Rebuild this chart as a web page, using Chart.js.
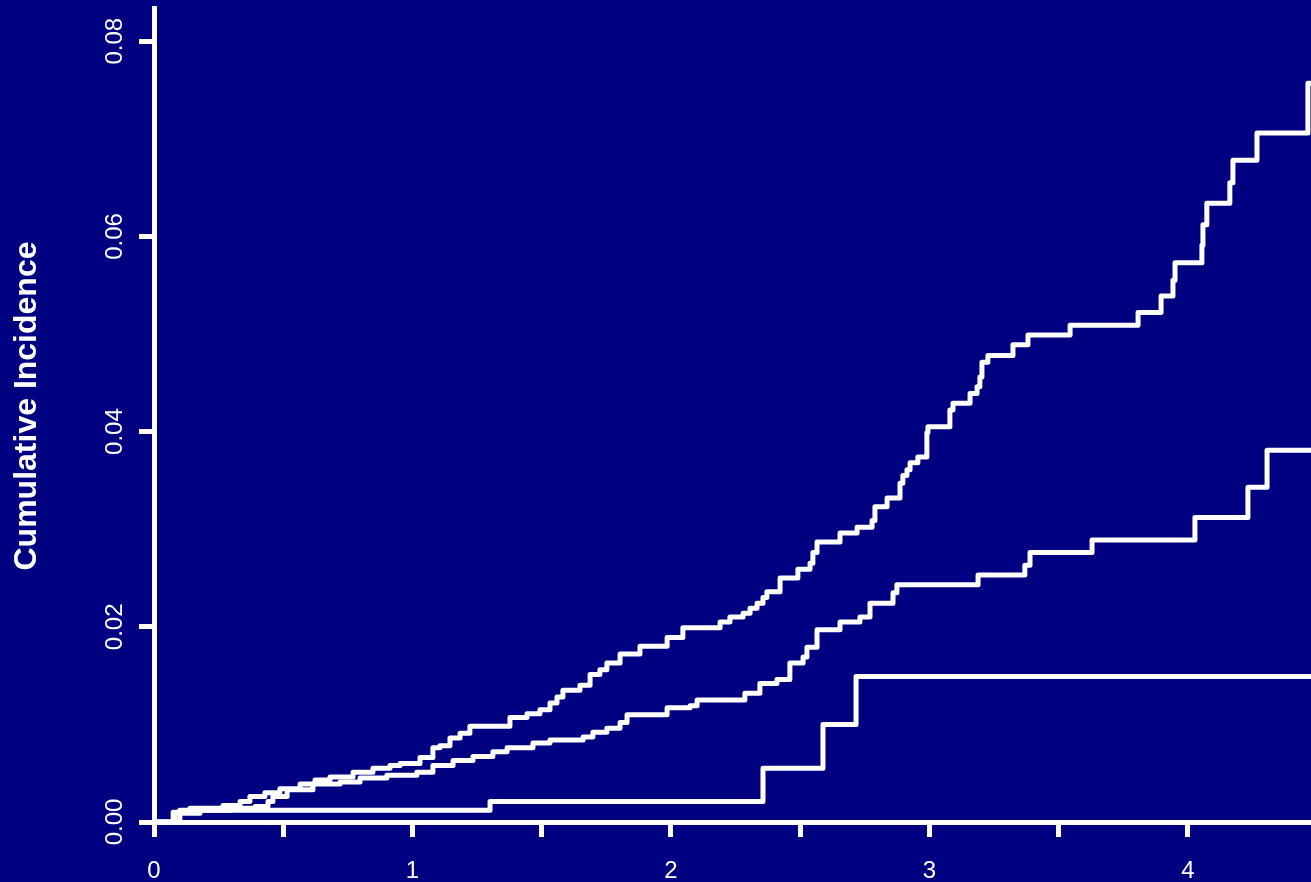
<!DOCTYPE html>
<html>
<head>
<meta charset="utf-8">
<title>Cumulative Incidence</title>
<script src="https://cdn.jsdelivr.net/npm/chart.js@4.4.1/dist/chart.umd.min.js"></script>
<style>
  html, body { margin: 0; padding: 0; background: #000080; overflow: hidden; }
  canvas { display: block; }
</style>
</head>
<body>
<canvas id="cumIncChart" width="1311" height="882"></canvas>
<script>
// step times and the cumulative incidence reached at each step
const upperTimes = [0.074, 0.139, 0.267, 0.333, 0.371, 0.429, 0.487, 0.565, 0.623, 0.681, 0.770, 0.847, 0.913, 0.952, 1.029, 1.079, 1.106, 1.145, 1.184, 1.222, 1.377, 1.443, 1.493, 1.532, 1.559, 1.582, 1.648, 1.687, 1.725, 1.752, 1.803, 1.880, 1.985, 2.046, 2.190, 2.228, 2.279, 2.306, 2.333, 2.356, 2.371, 2.422, 2.491, 2.538, 2.549, 2.565, 2.654, 2.720, 2.778, 2.789, 2.836, 2.886, 2.897, 2.913, 2.925, 2.955, 2.990, 2.994, 3.079, 3.091, 3.157, 3.184, 3.195, 3.203, 3.226, 3.323, 3.381, 3.544, 3.807, 3.896, 3.942, 3.950, 4.054, 4.058, 4.073, 4.162, 4.174, 4.267, 4.464];
const upperValues = [0.0010, 0.0014, 0.0017, 0.0021, 0.0026, 0.0030, 0.0034, 0.0039, 0.0043, 0.0046, 0.0051, 0.0055, 0.0058, 0.0060, 0.0066, 0.0076, 0.0078, 0.0086, 0.0091, 0.0098, 0.0107, 0.0111, 0.0115, 0.0122, 0.0128, 0.0135, 0.0140, 0.0151, 0.0156, 0.0163, 0.0172, 0.0180, 0.0189, 0.0199, 0.0205, 0.0210, 0.0214, 0.0219, 0.0224, 0.0230, 0.0236, 0.0250, 0.0259, 0.0265, 0.0276, 0.0287, 0.0296, 0.0302, 0.0309, 0.0323, 0.0332, 0.0347, 0.0355, 0.0361, 0.0368, 0.0374, 0.0399, 0.0405, 0.0422, 0.0429, 0.0439, 0.0446, 0.0456, 0.0471, 0.0478, 0.0489, 0.0499, 0.0509, 0.0522, 0.0539, 0.0555, 0.0573, 0.0591, 0.0612, 0.0634, 0.0655, 0.0678, 0.0706, 0.0757];

const middleTimes = [0.081, 0.178, 0.294, 0.391, 0.441, 0.460, 0.515, 0.615, 0.720, 0.797, 0.901, 1.017, 1.079, 1.157, 1.234, 1.311, 1.366, 1.466, 1.532, 1.660, 1.698, 1.752, 1.803, 1.830, 1.985, 2.074, 2.101, 2.286, 2.344, 2.410, 2.460, 2.511, 2.526, 2.565, 2.654, 2.731, 2.770, 2.859, 2.874, 3.188, 3.369, 3.389, 3.629, 4.027, 4.232, 4.306];
const middleValues = [0.0009, 0.0012, 0.0014, 0.0016, 0.0021, 0.0026, 0.0033, 0.0039, 0.0041, 0.0045, 0.0048, 0.0051, 0.0058, 0.0063, 0.0067, 0.0072, 0.0076, 0.0081, 0.0084, 0.0087, 0.0092, 0.0096, 0.0102, 0.0110, 0.0117, 0.0119, 0.0125, 0.0132, 0.0142, 0.0146, 0.0163, 0.0169, 0.0179, 0.0197, 0.0205, 0.0210, 0.0224, 0.0235, 0.0243, 0.0253, 0.0263, 0.0276, 0.0289, 0.0312, 0.0343, 0.0381];

const lowerTimes = [0.10, 1.30, 2.356, 2.588, 2.716];
const lowerValues = [0.0012, 0.0021, 0.0055, 0.0100, 0.0149];

const xTickLabels = ["0", "1", "2", "3", "4"];
const yTickLabels = ["0.00", "0.02", "0.04", "0.06", "0.08"];
const yTitle = "Cumulative Incidence";

const xMax = 4.476;
const yMax = 0.0834;
const fontFamily = '"Liberation Sans", Arial, sans-serif';

// start at 0, step at each time, carry the last level to the right edge
function stepPoints(times, values) {
  const pts = [{ x: 0, y: 0 }];
  times.forEach((t, i) => pts.push({ x: t, y: values[i] }));
  pts.push({ x: xMax, y: values[values.length - 1] });
  return pts;
}

function curve(times, values) {
  return {
    data: stepPoints(times, values),
    stepped: true,
    borderColor: "#ffffff",
    borderWidth: 5,
    borderCapStyle: "round",
    borderJoinStyle: "round",
    pointRadius: 0,
    fill: false,
  };
}

// rotated y tick labels and axis title
const axisText = {
  id: "axisText",
  afterDraw(chart) {
    const ctx = chart.ctx;
    const yScale = chart.scales.y;
    ctx.save();
    ctx.fillStyle = "#ffffff";
    ctx.textAlign = "center";
    ctx.textBaseline = "middle";
    ctx.font = "24px " + fontFamily;
    yScale.ticks.forEach((tick, i) => {
      ctx.save();
      ctx.translate(115, yScale.getPixelForValue(tick.value));
      ctx.rotate(-Math.PI / 2);
      ctx.fillText(yTickLabels[i], 0, 0);
      ctx.restore();
    });
    ctx.font = "bold 32px " + fontFamily;
    ctx.translate(27, 406);
    ctx.rotate(-Math.PI / 2);
    ctx.fillText(yTitle, 0, 0);
    ctx.restore();
  },
};

const ctx = document.getElementById("cumIncChart").getContext("2d");
const cumIncChart = new Chart(ctx, {
  type: "line",
  data: {
    datasets: [
      curve(upperTimes, upperValues),
      curve(middleTimes, middleValues),
      curve(lowerTimes, lowerValues),
    ],
  },
  options: {
    responsive: false,
    animation: false,
    devicePixelRatio: 1,
    layout: { padding: { top: 8, right: 0, bottom: 0, left: 0 } },
    plugins: {
      legend: { display: false },
      tooltip: { enabled: false },
    },
    scales: {
      x: {
        type: "linear",
        min: 0,
        max: xMax,
        afterFit: (scale) => { scale.height = 60; },
        border: { color: "#ffffff", width: 5 },
        grid: {
          drawOnChartArea: false,
          drawTicks: true,
          tickLength: 15,
          tickColor: "#ffffff",
          tickWidth: 5,
        },
        ticks: {
          stepSize: 0.5,
          includeBounds: false,
          autoSkip: false,
          maxRotation: 0,
          padding: 20,
          color: "#ffffff",
          font: { family: fontFamily, size: 24 },
          callback: (v) => (Math.abs(v - Math.round(v)) < 1e-6 ? xTickLabels[Math.round(v)] : ""),
        },
      },
      y: {
        type: "linear",
        min: 0,
        max: yMax,
        afterFit: (scale) => { scale.width = 154; },
        border: { color: "#ffffff", width: 5 },
        grid: {
          drawOnChartArea: false,
          drawTicks: true,
          tickLength: 15,
          tickColor: "#ffffff",
          tickWidth: 5,
        },
        ticks: {
          stepSize: 0.02,
          includeBounds: false,
          display: false,
        },
      },
    },
  },
  plugins: [axisText],
});
</script>
</body>
</html>
